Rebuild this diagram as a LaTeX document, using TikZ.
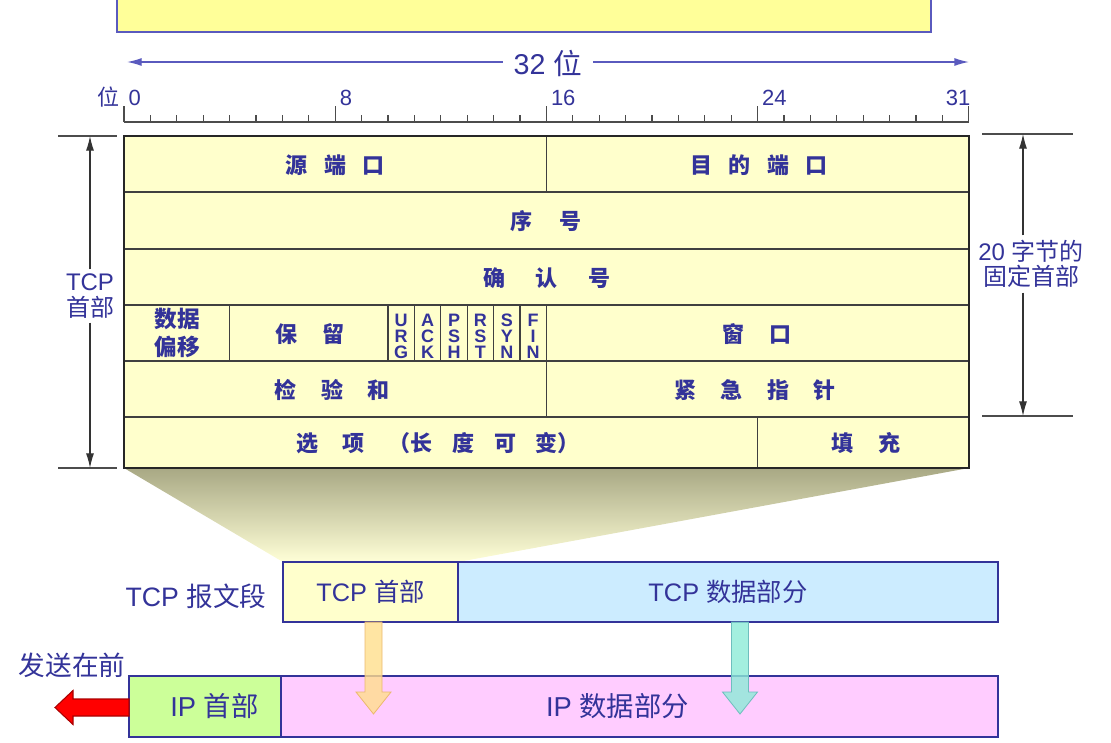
\documentclass[tikz,border=0pt]{standalone}
\usepackage{fontspec}
\setmainfont{Liberation Sans}
\newfontfamily\cjk{Noto Sans CJK SC}
\usetikzlibrary{arrows.meta}
\definecolor{txtblue}{RGB}{51,51,153}
\definecolor{baryellow}{RGB}{255,255,153}
\definecolor{barline}{RGB}{90,90,190}
\definecolor{tabyellow}{RGB}{255,255,204}
\definecolor{zoomtop}{RGB}{168,168,132}
\definecolor{zoombot}{RGB}{255,255,215}
\definecolor{tcpblue}{RGB}{204,236,255}
\definecolor{ipgreen}{RGB}{204,255,153}
\definecolor{ippink}{RGB}{255,204,255}
\definecolor{sendred}{RGB}{255,0,0}
\definecolor{sendedge}{RGB}{170,0,0}
\definecolor{downfill}{RGB}{255,222,140}
\definecolor{downedge}{RGB}{235,185,110}
\definecolor{datafill}{RGB}{140,235,215}
\definecolor{dataedge}{RGB}{110,190,190}
\newcommand{\gap}[1][1.1em]{\hspace{#1}}
\begin{document}
\begin{tikzpicture}[x=0.75pt,y=-0.75pt,
		lbl/.style={text=txtblue, inner sep=1pt, font=\fontsize{16.5}{18}\selectfont},
		field/.style={text=txtblue, font=\cjk\bfseries\fontsize{16.5}{19}\selectfont},
		flag/.style={text=txtblue, align=center, inner sep=0pt, font=\bfseries\fontsize{13.5}{12}\selectfont},
		side/.style={text=txtblue, align=center, font=\fontsize{18}{19}\selectfont},
		seg/.style={draw=txtblue, line width=1.5pt, outer sep=0pt, inner sep=0pt, text=txtblue, minimum height=45pt, font=\fontsize{19}{22}\selectfont},
		cell/.style={draw=black!75, line width=0.9pt},
		frame/.style={draw=black!85, line width=1.8pt},
		tick/.style={draw=black!70, line width=0.9pt},
		dim/.style={draw=black!80, line width=0.8pt, -{Latex[length=11pt,width=6pt]}},
		ext/.style={draw=black!70, line width=0.8pt},
		span/.style={draw=barline, line width=1pt, -{Latex[length=11pt,width=6pt]}},
		down/.style={line width=0.6pt, fill opacity=0.8}]
	\useasboundingbox (0,0) rectangle (1111,743);
	\fill[baryellow] (117,0) rectangle (931,32);
	\draw[barline, line width=1.3pt] (117,0) -- (117,32) -- (931,32) -- (931,0);
	\node[lbl, inner sep=8pt, font=\fontsize{21.5}{24}\selectfont] (w32) at (548,63) {32 {\cjk 位}};
	\coordinate (wl) at (127,62);
	\coordinate (wr) at (969,62);
	\draw[span] (w32.west |- wl) -- (wl);
	\draw[span] (w32.east |- wr) -- (wr);
	\draw[tick] (124,122) -- (969,122);
	\foreach \b in {0,...,32} \draw[tick] ({124+26.4*\b},122) -- ++(0,-7);
	\foreach \b in {0,8,...,32} \draw[tick] ({124+26.4*\b},122) -- ++(0,-16);
	\foreach \b in {0,8,16,24} \node[lbl, anchor=base west] (b\b) at ({127+26.4*\b},105) {\b};
	\node[lbl, anchor=base east] (b31) at (972,105) {31};
	\node[lbl, anchor=base east] (bit) at (121,105) {\cjk 位};
	\shade[top color=zoomtop, bottom color=zoombot] (124,468) -- (969,468) -- (458,562) -- (283,562) -- cycle;
	\fill[tabyellow] (124,136) rectangle (969,468);
	\foreach \y in {192,249,305,361,417} \draw[cell] (124,\y) -- (969,\y);
	\draw[cell] (546.4,136) -- (546.4,192);
	\draw[cell] (546.4,305) -- (546.4,417);
	\foreach \x in {229.6,388,414.4,440.8,467.2,493.6,520} \draw[cell] (\x,305) -- (\x,361);
	\draw[cell] (757.6,417) -- (757.6,468);
	\draw[frame] (124,136) rectangle (969,468);
	\node[field] (srcport) at (335,165) {源\gap[0.75em]端\gap[0.75em]口};
	\node[field] (dstport) at (759,165) {目\gap[0.75em]的\gap[0.75em]端\gap[0.75em]口};
	\node[field] (seqno) at (546,221) {序\gap[1.2em]号};
	\node[field] (ackno) at (547,278) {确\gap[1.4em]认\gap[1.4em]号};
	\node[field, align=center, font=\cjk\bfseries\fontsize{17}{21}\selectfont] (offset) at (177,333) {数据\\偏移};
	\node[field] (resv) at (310,334) {保\gap 留};
	\foreach \x/\f [count=\i] in {401.2/U\\R\\G, 427.6/A\\C\\K, 454/P\\S\\H, 480.4/R\\S\\T, 506.8/S\\Y\\N, 533.2/F\\I\\N}
		\node[flag] (flag\i) at (\x,336) {\f};
	\node[field] (window) at (757,334) {窗\gap 口};
	\node[field] (cksum) at (332,390) {检\gap 验\gap 和};
	\node[field] (urgent) at (755,390) {紧\gap 急\gap 指\gap 针};
	\node[field] (opts) at (438,443) {选\gap 项\gap （长\gap[0.9em]度\gap[0.9em]可\gap[0.9em]变）};
	\node[field] (pad) at (866,443) {填\gap 充};
	\draw[ext] (58,136) -- (117,136);
	\draw[ext] (58,468) -- (117,468);
	\coordinate (ht) at (90,136);
	\coordinate (hb) at (90,468);
	\node[side] (tcphd) at (90,296) {TCP\\{\cjk 首部}};
	\draw[dim] (tcphd) -- (ht);
	\draw[dim] (tcphd) -- (hb);
	\draw[ext] (982,134) -- (1073,134);
	\draw[ext] (982,416) -- (1073,416);
	\coordinate (ft) at (1023,134);
	\coordinate (fb) at (1023,416);
	\node[side] (fixhd) at (1031,264) {20 {\cjk 字节的}\\{\cjk 固定首部}};
	\draw[dim] (fixhd.north -| ft) -- (ft);
	\draw[dim] (fixhd.south -| fb) -- (fb);
	\node[seg, fill=tabyellow, minimum width=131.25pt] (tcph) at (370.5,592) {TCP {\cjk 首部}};
	\node[seg, fill=tcpblue, minimum width=405pt, anchor=west] (tcpd) at (tcph.east) {TCP {\cjk 数据部分}};
	\node[lbl, anchor=east, font=\fontsize{20}{22}\selectfont] (seglbl) at (268,596) {TCP {\cjk 报文段}};
	\node[seg, fill=ipgreen, minimum width=114pt, minimum height=45.75pt, font=\fontsize{20.5}{22}\selectfont] (iph) at (205,706.5) {\hspace*{14pt}IP {\cjk 首部}};
	\node[seg, fill=ippink, minimum width=537.75pt, minimum height=45.75pt, anchor=west, font=\fontsize{20.5}{22}\selectfont] (ipd) at (iph.east) {IP {\cjk 数据部分}\hspace*{33pt}};
	\node[lbl, font=\fontsize{20}{22}\selectfont] (first) at (72,665) {\cjk 发送在前};
	\filldraw[fill=sendred, draw=sendedge, line width=0.8pt] (iph.west) +(0,-7.5) -- +(-56,-7.5) -- +(-56,-16) -- +(-74,1) -- +(-56,18) -- +(-56,9.5) -- +(0,9.5) -- cycle;
	\coordinate (oa) at (373.5,622);
	\coordinate (ta) at (740,622);
	\filldraw[down, fill=downfill, draw=downedge] (oa) +(-8.5,0) -- +(-8.5,70) -- +(-17.5,70) -- +(0,92) -- +(17.5,70) -- +(8.5,70) -- +(8.5,0) -- cycle;
	\filldraw[down, fill=datafill, draw=dataedge] (ta) +(-8.5,0) -- +(-8.5,70) -- +(-17.5,70) -- +(0,92) -- +(17.5,70) -- +(8.5,70) -- +(8.5,0) -- cycle;
\end{tikzpicture}
\end{document}
